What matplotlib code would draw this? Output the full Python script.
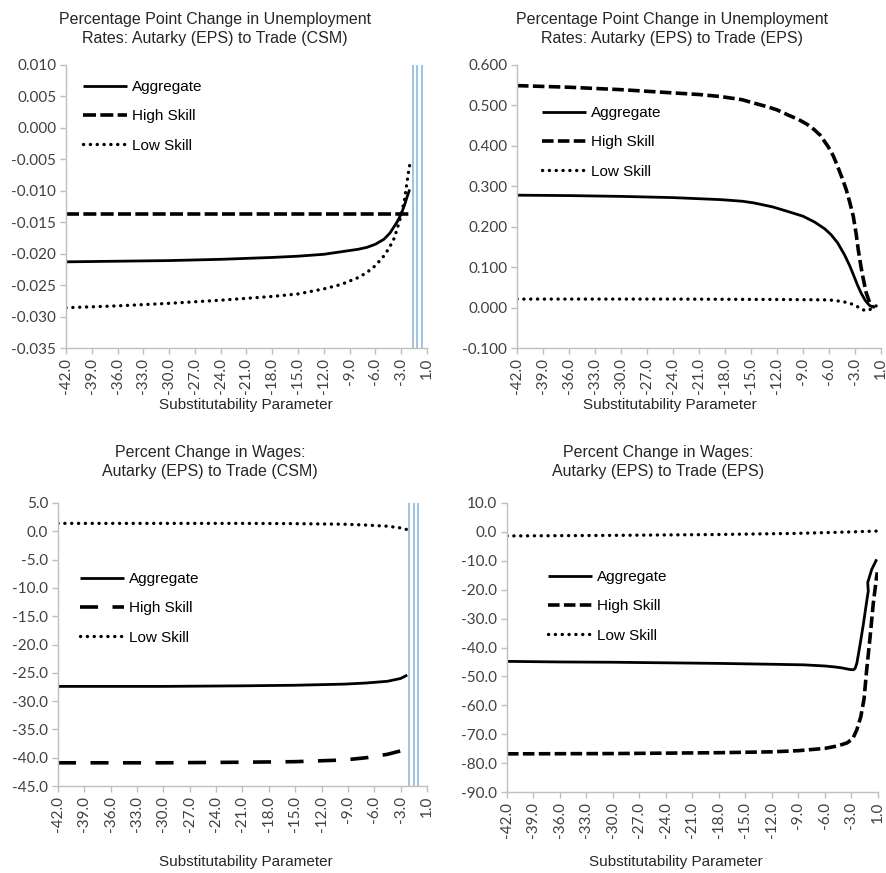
import matplotlib

matplotlib.use("Agg")

import matplotlib.pyplot as plt
import numpy as np

W, H = 887, 873

TICK_VALUES = [-42.0, -39.0, -36.0, -33.0, -30.0, -27.0, -24.0, -21.0,
               -18.0, -15.0, -12.0, -9.0, -6.0, -3.0, 1.0]
TICK_LABELS = [f"{v:.1f}" for v in TICK_VALUES]
SERIES_NAMES = ["Aggregate", "High Skill", "Low Skill"]

# unemployment, autarky (EPS) -> trade (CSM)
TL_X_AGG = [-42, -36, -30, -24, -18, -15, -12, -10, -8, -7, -6, -5, -4.3, -3.5, -3.0,
            -2.5, -2.1, -1.7]
TL_AGG = [-0.0213, -0.0212, -0.0211, -0.0209, -0.0206, -0.0204, -0.0201, -0.0197,
          -0.0193, -0.0190, -0.0185, -0.0177, -0.0167, -0.0150, -0.0137, -0.0123,
          -0.0110, -0.0098]
TL_X_HIGH = [-42, -1.6]
TL_HIGH = [-0.0137, -0.0137]
TL_X_LOW = [-42, -36, -30, -24, -18, -15, -12, -10, -8, -7, -6, -5.1, -4.4, -3.8, -3.15,
            -2.5, -1.9, -1.6]
TL_LOW = [-0.0286, -0.0283, -0.0279, -0.0274, -0.0268, -0.0264, -0.0256, -0.0249,
          -0.0238, -0.0230, -0.0219, -0.0205, -0.0191, -0.0175, -0.0146, -0.0115,
          -0.0072, -0.0054]
TL_BLUE = [-1.2, -0.5, 0.2]

# unemployment, autarky (EPS) -> trade (EPS)
TR_X_AGG = [-42, -36, -30, -24, -18.5, -16, -14.7, -12.5, -10.8, -9, -7.7, -6.5, -5.75,
            -5, -4.2, -3.6, -3.2, -2.6, -2.0, -1.4, -0.75, 0.05]
TR_AGG = [0.278, 0.277, 0.275, 0.272, 0.267, 0.263, 0.259, 0.249, 0.238, 0.226, 0.212,
          0.195, 0.180, 0.160, 0.130, 0.103, 0.082, 0.055, 0.034, 0.017, 0.005, 0.0]
TR_X_HIGH = [-42, -39, -36, -33, -30, -27, -24, -21, -18.5, -16, -14.7, -13, -12, -10.8,
             -9.5, -8.5, -7.7, -7, -6.1, -5.5, -5.0, -4.5, -4.0, -3.6, -3.2, -2.8, -2.5,
             -2.1, -1.8, -1.3, -0.75, -0.2]
TR_HIGH = [0.549, 0.547, 0.545, 0.542, 0.539, 0.535, 0.531, 0.527, 0.522, 0.514, 0.506,
           0.496, 0.489, 0.477, 0.465, 0.453, 0.440, 0.426, 0.398, 0.375, 0.349, 0.321,
           0.291, 0.260, 0.226, 0.180, 0.143, 0.103, 0.077, 0.038, 0.012, 0.0]
TR_X_LOW = [-42, -24, -12, -6, -4.5, -3.8, -3, -2.5, -2, -1.5, -1.0, -0.6, -0.2, 0.2, 0.8]
TR_LOW = [0.021, 0.021, 0.020, 0.019, 0.015, 0.012, 0.006, 0.001, -0.004, -0.007,
          -0.007, -0.004, 0.001, 0.004, 0.004]

# wages, autarky (EPS) -> trade (CSM)
BL_X = [-42, -30, -21, -15, -9.4, -6.9, -4.5, -3.0, -2.0]
BL_AGG = [-27.4, -27.4, -27.3, -27.2, -27.0, -26.8, -26.5, -26.0, -25.4]
BL_HIGH = [-40.9, -40.9, -40.8, -40.7, -40.4, -40.0, -39.4, -38.8, -38.0]
BL_LOW = [1.4, 1.4, 1.4, 1.35, 1.25, 1.1, 0.9, 0.6, 0.3]
BL_BLUE = [-1.7, -1.0, -0.3]

# wages, autarky (EPS) -> trade (EPS)
BR_X_AGG = [-42, -36, -30, -24, -18, -12, -8.4, -6, -5, -4.2, -3.7, -3.2, -2.7, -2.45,
            -2.2, -1.96, -1.6, -1.2, -0.8, -0.47, -0.55, 0.05, 0.8]
BR_AGG = [-44.8, -45.0, -45.1, -45.3, -45.5, -45.8, -46.0, -46.4, -46.7, -47.0, -47.3,
          -47.6, -47.7, -47.2, -45.5, -42.4, -37.5, -31.8, -25.5, -20.5, -17.5, -13.0, -9.5]
BR_X_HIGH = [-42, -30, -18, -12, -9, -6, -4.5, -3.5, -2.8, -2.2, -1.6, -1.1, -0.72,
             -0.2, 0.29, 0.8, 0.9]
BR_HIGH = [-76.8, -76.7, -76.4, -76.1, -75.7, -74.9, -74.0, -73.0, -71.5, -68.5,
           -64.0, -57.7, -48.0, -36.5, -24.7, -15.3, -14.0]
BR_X_LOW = [-42, -30, -18, -9, -3, 1.0]
BR_LOW = [-1.4, -1.2, -0.9, -0.5, 0.0, 0.3]

TITLE_FONT = "Liberation Sans"
TICK_FONT = "Lato"
GREY = "#bfbfbf"
TEXT = "#404040"
BLUE = "#9dc3e6"


def to_pos(x):
    return np.interp(x, TICK_VALUES, np.arange(len(TICK_VALUES)))


def px_axes(fig, left, top, right, bottom):
    return fig.add_axes([left / W, 1 - bottom / H, (right - left) / W, (bottom - top) / H])


def style_axes(ax, ymin, ymax, step, fmt):
    ax.set_xlim(0, len(TICK_VALUES) - 1)
    ax.set_xticks(np.arange(len(TICK_VALUES)))
    ax.set_xticklabels(TICK_LABELS, rotation=90)
    yt = np.arange(ymin, ymax + step / 2, step)
    ax.set_ylim(ymin, ymax)
    ax.set_yticks(yt)
    ax.set_yticklabels([fmt.format(v + 0.0) for v in yt])
    for side in ("top", "right"):
        ax.spines[side].set_visible(False)
    for side in ("left", "bottom"):
        ax.spines[side].set_color(GREY)
        ax.spines[side].set_linewidth(1.0)
    ax.tick_params(direction="out", length=4, width=1.0, color=GREY,
                   labelcolor=TEXT, labelsize=11, pad=3)
    for lab in ax.get_xticklabels() + ax.get_yticklabels():
        lab.set_fontfamily(TICK_FONT)


def draw_series(ax, data, dash_high):
    (xa, ya), (xh, yh), (xl, yl) = data
    l1, = ax.plot(to_pos(xa), ya, color="black", lw=2.0, solid_capstyle="butt")
    l2, = ax.plot(to_pos(xh), yh, color="black", lw=2.6, linestyle=(0, dash_high),
                  dash_capstyle="butt")
    l3, = ax.plot(to_pos(xl), yl, color="black", lw=2.4, linestyle=(0, (0.05, 2.0)),
                  dash_capstyle="round")
    return [l1, l2, l3]


def add_legend(fig, ax, handles, x, y):
    ax.legend(handles, SERIES_NAMES, loc="upper left", frameon=False,
              bbox_to_anchor=(x / W, 1 - y / H), bbox_transform=fig.transFigure,
              borderpad=0, borderaxespad=0, handlelength=2.9, handletextpad=0.3,
              labelspacing=1.0, prop={"family": TITLE_FONT, "size": 11})


def add_texts(fig, cx, ty, title, xlabel_y, xlabel_cx):
    fig.text(cx / W, 1 - ty / H, title, ha="center", va="top", fontsize=11.5,
             family=TITLE_FONT, color="#262626", linespacing=1.35)
    fig.text(xlabel_cx / W, 1 - xlabel_y / H, "Substitutability Parameter", ha="center",
             va="center", fontsize=11, family=TITLE_FONT, color="#262626")


def main():
    plt.rcParams["axes.unicode_minus"] = False
    fig = plt.figure(figsize=(W / 100, H / 100), dpi=100)

    ax = px_axes(fig, 66, 65, 427, 348)
    style_axes(ax, -0.035, 0.010, 0.005, "{:.3f}")
    for v in TL_BLUE:
        ax.axvline(to_pos(v), color=BLUE, lw=1.4)
    h = draw_series(ax, [(TL_X_AGG, TL_AGG), (TL_X_HIGH, TL_HIGH), (TL_X_LOW, TL_LOW)],
                    (3.6, 1.2))
    add_legend(fig, ax, h, 83, 80)
    add_texts(fig, 215, 12, "Percentage Point Change in Unemployment\nRates: Autarky (EPS) to Trade (CSM)",
              405, 246)

    ax = px_axes(fig, 517, 65, 881, 348)
    style_axes(ax, -0.1, 0.6, 0.1, "{:.3f}")
    h = draw_series(ax, [(TR_X_AGG, TR_AGG), (TR_X_HIGH, TR_HIGH), (TR_X_LOW, TR_LOW)],
                    (3.2, 1.2))
    add_legend(fig, ax, h, 542, 106)
    add_texts(fig, 672, 12, "Percentage Point Change in Unemployment\nRates: Autarky (EPS) to Trade (EPS)",
              405, 670)

    ax = px_axes(fig, 58, 503, 427, 786)
    style_axes(ax, -45, 5, 5, "{:.1f}")
    for v in BL_BLUE:
        ax.axvline(to_pos(v), color=BLUE, lw=1.4)
    h = draw_series(ax, [(BL_X, BL_AGG), (BL_X, BL_HIGH), (BL_X, BL_LOW)], (5.0, 4.0))
    add_legend(fig, ax, h, 80, 572)
    add_texts(fig, 210, 445, "Percent Change in Wages:\nAutarky (EPS) to Trade (CSM)", 862, 246)

    ax = px_axes(fig, 507, 503, 878, 792)
    style_axes(ax, -90, 10, 10, "{:.1f}")
    h = draw_series(ax, [(BR_X_AGG, BR_AGG), (BR_X_HIGH, BR_HIGH), (BR_X_LOW, BR_LOW)],
                    (3.2, 1.2))
    add_legend(fig, ax, h, 548, 570)
    add_texts(fig, 658, 445, "Percent Change in Wages:\nAutarky (EPS) to Trade (EPS)", 862, 676)

    fig.savefig("out.png", dpi=100)
    plt.close(fig)


if __name__ == "__main__":
    main()
